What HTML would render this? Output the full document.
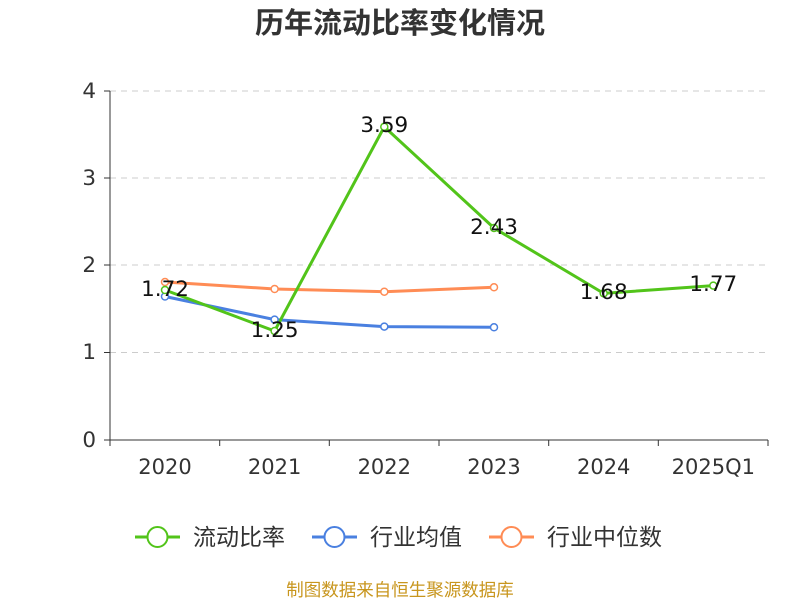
<!DOCTYPE html>
<html><head><meta charset="utf-8"><style>
body{margin:0;background:#fff;}
text{font-family:"DejaVu Sans","Noto Sans CJK SC",sans-serif;}
</style></head><body>
<svg width="800" height="600" xmlns="http://www.w3.org/2000/svg">
<text x="400" y="33" text-anchor="middle" font-size="29" font-weight="bold" fill="#333" font-family="'Noto Sans CJK SC',sans-serif">历年流动比率变化情况</text>
<g stroke="#ccc" stroke-dasharray="6,5" stroke-width="1">
<line x1="110" y1="91" x2="768" y2="91"/>
<line x1="110" y1="178" x2="768" y2="178"/>
<line x1="110" y1="265" x2="768" y2="265"/>
<line x1="110" y1="352.5" x2="768" y2="352.5"/>
</g>
<line x1="110" y1="91" x2="110" y2="440" stroke="#333"/>
<line x1="110" y1="440" x2="768" y2="440" stroke="#333"/>
<g stroke="#333">
<line x1="104" y1="91" x2="110" y2="91"/><line x1="104" y1="178" x2="110" y2="178"/><line x1="104" y1="265" x2="110" y2="265"/><line x1="104" y1="352.5" x2="110" y2="352.5"/><line x1="104" y1="440" x2="110" y2="440"/>
<line x1="110" y1="440" x2="110" y2="446"/><line x1="219.7" y1="440" x2="219.7" y2="446"/><line x1="329.3" y1="440" x2="329.3" y2="446"/><line x1="439" y1="440" x2="439" y2="446"/><line x1="548.7" y1="440" x2="548.7" y2="446"/><line x1="658.3" y1="440" x2="658.3" y2="446"/><line x1="768" y1="440" x2="768" y2="446"/>
</g>
<g font-size="21.5" fill="#333" text-anchor="end">
<text x="96" y="98">4</text><text x="96" y="185">3</text><text x="96" y="272">2</text><text x="96" y="359">1</text><text x="96" y="447">0</text>
</g>
<g font-size="21" fill="#333" text-anchor="middle">
<text x="165" y="474">2020</text><text x="274.6" y="474">2021</text><text x="384.3" y="474">2022</text><text x="494" y="474">2023</text><text x="603.7" y="474">2024</text><text x="713.3" y="474">2025Q1</text>
</g>
<polyline fill="none" stroke="#ff8c55" stroke-width="3" points="165,282 274.6,289 384.3,291.7 494,287.3"/>
<polyline fill="none" stroke="#4a80e0" stroke-width="3" points="165,296.5 274.6,319.6 384.3,326.6 494,327.3"/>
<polyline fill="none" stroke="#52c41a" stroke-width="3" points="165,290 274.6,331 384.3,126.8 494,228 603.7,293.4 713.3,285.6"/>
<g fill="#fff" stroke-width="1.5">
<g stroke="#ff8c55"><circle cx="165" cy="282" r="3.5"/><circle cx="274.6" cy="289" r="3.5"/><circle cx="384.3" cy="291.7" r="3.5"/><circle cx="494" cy="287.3" r="3.5"/></g>
<g stroke="#4a80e0"><circle cx="165" cy="296.5" r="3.5"/><circle cx="274.6" cy="319.6" r="3.5"/><circle cx="384.3" cy="326.6" r="3.5"/><circle cx="494" cy="327.3" r="3.5"/></g>
<g stroke="#52c41a"><circle cx="165" cy="290" r="3.5"/><circle cx="274.6" cy="331" r="3.5"/><circle cx="384.3" cy="126.8" r="3.5"/><circle cx="494" cy="228" r="3.5"/><circle cx="603.7" cy="293.4" r="3.5"/><circle cx="713.3" cy="285.6" r="3.5"/></g>
</g>
<g font-size="21.5" fill="#111" text-anchor="middle">
<text x="165" y="296">1.72</text><text x="274.6" y="337">1.25</text><text x="384.3" y="132">3.59</text><text x="494" y="234">2.43</text><text x="603.7" y="299">1.68</text><text x="713.3" y="291">1.77</text>
</g>
<g stroke-width="3" fill="#fff">
<line x1="135" y1="537" x2="180" y2="537" stroke="#52c41a"/><circle cx="157.5" cy="537" r="10" stroke="#52c41a" stroke-width="2"/>
<line x1="312" y1="537" x2="357" y2="537" stroke="#4a80e0"/><circle cx="334.5" cy="537" r="10" stroke="#4a80e0" stroke-width="2"/>
<line x1="489" y1="537" x2="534" y2="537" stroke="#ff8c55"/><circle cx="511.5" cy="537" r="10" stroke="#ff8c55" stroke-width="2"/>
</g>
<g font-size="23" fill="#333" font-family="'Noto Sans CJK SC',sans-serif">
<text x="193" y="545">流动比率</text><text x="370" y="545">行业均值</text><text x="547" y="545">行业中位数</text>
</g>
<text x="400" y="596" text-anchor="middle" font-size="17.5" fill="#c8961e" font-family="'Noto Sans CJK SC',sans-serif">制图数据来自恒生聚源数据库</text>
</svg>
</body></html>
